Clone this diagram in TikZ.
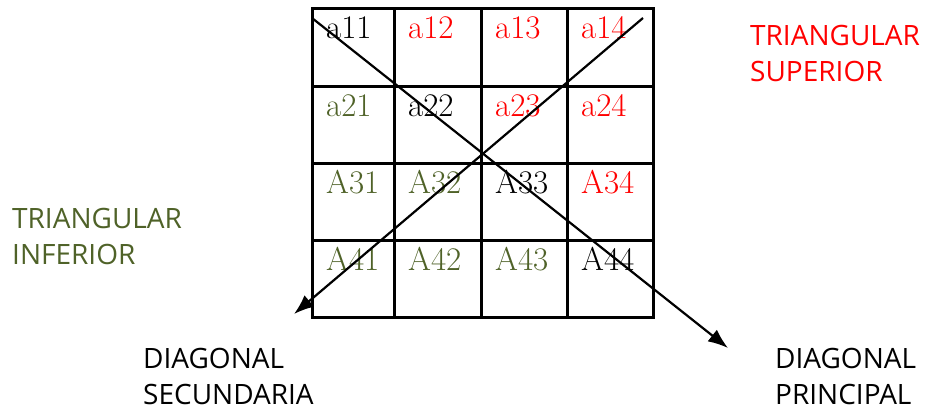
\RequirePackage{fix-cm}
\documentclass[tikz,border=0pt]{standalone}
\usepackage{fontspec}
\usetikzlibrary{arrows.meta}
\newfontfamily\labelfont{Open Sans}
\definecolor{olivegreen}{RGB}{79,98,40}

\begin{document}
\begin{tikzpicture}[x=1pt, y=-1pt, >={Latex[length=20pt, width=15pt]},
	cell/.style={font=\fontsize{33}{40}\selectfont, anchor=base west, inner sep=0pt},
	lab/.style={font=\labelfont\fontsize{28}{36}\selectfont, anchor=north west, align=left, inner sep=0pt}]
	\useasboundingbox (0,0) rectangle (930,410);
	% grid of the matrix
	\draw[line width=3pt] (312,8) rectangle (653,317);
	\foreach \x in {394,481,567} {\draw[line width=3pt] (\x,8) -- (\x,317);}
	\foreach \y in {86,163,240} {\draw[line width=3pt] (312,\y) -- (653,\y);}
	% entries
	\foreach \c/\x in {1/312,2/394,3/481,4/567} {
		\foreach \r/\y/\L in {1/8/a,2/86/a,3/163/A,4/240/A} {
			\ifnum\c>\r \def\tone{red}\else\ifnum\c<\r \def\tone{olivegreen}\else\def\tone{black}\fi\fi
			\node[cell, text=\tone] (m\r\c) at (\x+14,\y+30) {\L\oldstylenums{\r\c}};
		}
	}
	% diagonals
	\coordinate (pstart) at (312,18);
	\coordinate (pend) at (728,348);
	\coordinate (sstart) at (643,18);
	\coordinate (send) at (294,314);
	\draw[->, line width=2.2pt] (pstart) -- (pend);
	\draw[->, line width=2.2pt] (sstart) -- (send);
	% labels
	\node[lab, red] (sup) at (750,25) {TRIANGULAR\\SUPERIOR};
	\node[lab, olivegreen] (inf) at (12,208) {TRIANGULAR\\INFERIOR};
	\node[lab] (sec) at (143,348) {DIAGONAL\\SECUNDARIA};
	\node[lab] (pri) at (775,348) {DIAGONAL\\PRINCIPAL};
\end{tikzpicture}
\end{document}
